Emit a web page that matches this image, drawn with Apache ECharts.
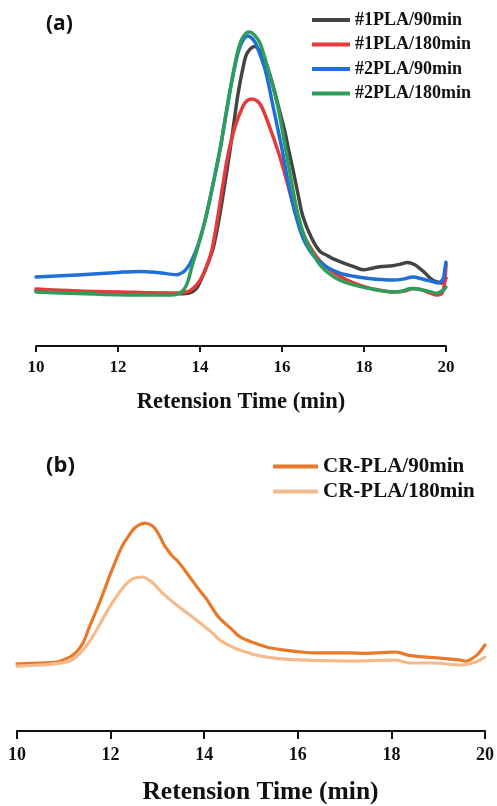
<!DOCTYPE html>
<html>
<head>
<meta charset="utf-8">
<script src="https://cdn.jsdelivr.net/npm/echarts@6/dist/echarts.min.js"></script>
<style>
  html, body { margin: 0; padding: 0; background: #fff; }
  #chart { width: 497px; height: 806px; }
</style>
</head>
<body>
<div id="chart"></div>
<script>
// GPC traces: [retention time (min), detector response (a.u.)]
const xTicks = [10, 12, 14, 16, 18, 20];

const seriesNamesA = ['#1PLA/90min', '#1PLA/180min', '#2PLA/90min', '#2PLA/180min'];
const seriesNamesB = ['CR-PLA/90min', 'CR-PLA/180min'];

const pla1_90 = [
  [10, 17.2], [11, 17.0], [12, 16.7], [13, 16.4], [13.5, 16.3], [13.75, 16.6], [13.9, 17.8],
  [14.0, 20], [14.15, 24.5], [14.32, 30.5], [14.47, 40], [14.61, 51], [14.73, 61], [14.83, 70],
  [14.93, 79], [15.05, 87], [15.15, 91.5], [15.34, 93.6], [15.45, 92.3], [15.59, 89], [15.71, 84.5],
  [15.83, 79], [15.95, 73], [16.07, 67], [16.15, 62], [16.27, 55], [16.39, 47.5], [16.51, 40.5],
  [16.73, 33.5], [16.93, 29.5], [17.1, 28.3], [17.25, 27.2], [17.49, 26], [17.75, 24.8],
  [17.98, 23.8], [18.2, 24.3], [18.39, 24.8], [18.7, 25.1], [18.9, 25.6], [19.05, 26.1],
  [19.24, 25.4], [19.38, 24], [19.49, 22.8], [19.65, 20.8], [19.78, 20], [19.9, 19.7], [20.0, 21.2]
];

const pla1_180 = [
  [10, 17.8], [11, 17.2], [12, 16.9], [13, 16.6], [13.44, 16.6], [13.7, 17.0], [13.85, 18.2],
  [14.0, 20.5], [14.15, 24.5], [14.29, 30], [14.43, 40], [14.56, 50.5], [14.68, 59.5],
  [14.85, 68.4], [15.05, 75], [15.15, 76.7], [15.27, 77.2], [15.4, 76.5], [15.51, 74.6],
  [15.71, 68], [15.9, 61], [16.02, 56], [16.15, 50], [16.32, 42], [16.5, 35.5], [16.73, 30],
  [16.93, 26.5], [17.2, 23.5], [17.41, 21.8], [17.7, 20], [18.07, 18.3], [18.4, 17.4],
  [18.71, 16.9], [19.0, 17.2], [19.2, 18.0], [19.4, 17.6], [19.6, 16.6], [19.8, 15.9],
  [19.9, 16.5], [19.96, 19], [20.0, 25.5]
];

const pla2_90 = [
  [10, 21.6], [11, 22.2], [12, 23.0], [12.54, 23.3], [13.0, 22.9], [13.44, 22.3], [13.6, 23.2],
  [13.7, 24.6], [13.8, 26.8], [13.95, 31.5], [14.12, 39], [14.3, 49.5], [14.49, 61.5],
  [14.61, 70.6], [14.77, 82.3], [14.93, 91.8], [15.05, 95.6], [15.17, 96.9], [15.3, 95.7],
  [15.39, 93.6], [15.59, 86.3], [15.78, 75], [16.0, 61.5], [16.16, 50.5], [16.32, 41.5],
  [16.52, 33.5], [16.75, 28.5], [16.93, 26.3], [17.1, 24.6], [17.41, 22.8], [17.75, 21.8],
  [18.07, 21.2], [18.4, 20.8], [18.71, 20.6], [18.95, 20.9], [19.2, 21.6], [19.4, 21.0],
  [19.6, 20.4], [19.8, 19.7], [19.93, 21], [19.97, 24], [20.0, 26.2]
];

const pla2_180 = [
  [10, 16.9], [11, 16.4], [12, 16.0], [13, 15.9], [13.27, 15.9], [13.45, 16.2], [13.6, 17.5],
  [13.7, 20], [13.8, 24.7], [13.95, 31], [14.12, 39], [14.3, 49.5], [14.49, 61.5],
  [14.61, 70.6], [14.77, 82.5], [14.93, 92.5], [15.05, 96.6], [15.2, 98.1], [15.32, 97.3],
  [15.46, 94.7], [15.66, 86.5], [15.88, 75.9], [16.07, 63], [16.23, 51.5], [16.39, 41],
  [16.6, 32.5], [16.8, 27.8], [16.93, 25.3], [17.15, 22.6], [17.41, 20.6], [17.75, 19.1],
  [18.07, 18.1], [18.4, 17.3], [18.71, 16.9], [18.95, 17.2], [19.15, 18.0], [19.3, 17.8],
  [19.54, 17.2], [19.78, 16.5], [19.93, 17.4], [20.0, 18.4]
];

const crpla_90 = [
  [10, 30.5], [10.5, 30.9], [10.8, 31.2], [11.07, 33], [11.25, 35.5], [11.41, 40], [11.56, 48],
  [11.7, 55], [11.83, 62], [11.98, 70.5], [12.13, 78.5], [12.26, 84.5], [12.37, 88.2],
  [12.5, 92], [12.6, 93.6], [12.73, 94.5], [12.85, 93.8], [12.94, 92.3], [13.05, 88.5],
  [13.16, 84], [13.3, 80], [13.45, 76.8], [13.69, 70], [13.9, 64], [14.05, 60], [14.3, 52],
  [14.6, 46], [14.75, 43], [15.03, 40.3], [15.33, 38.2], [15.67, 36.9], [16.03, 36], [16.4, 35.5],
  [17.1, 35.5], [17.46, 35.3], [17.8, 35.6], [18.1, 35.9], [18.22, 35.3], [18.35, 34.5],
  [18.6, 33.8], [18.87, 33.4], [19.2, 32.8], [19.45, 32.3], [19.6, 31.8], [19.73, 33],
  [19.85, 35], [20.0, 39.1]
];

const crpla_180 = [
  [10, 29.5], [10.5, 30], [11.07, 31.4], [11.25, 33.5], [11.41, 36.8], [11.56, 41], [11.7, 45.9],
  [11.98, 56.4], [12.26, 65], [12.47, 69.1], [12.67, 70], [12.88, 67.7], [13.11, 62.7],
  [13.41, 57.3], [13.75, 51.8], [14.18, 44.5], [14.33, 41.4], [14.75, 36.8], [15.33, 33.6],
  [16.03, 32.3], [17.1, 31.8], [18.1, 32.2], [18.25, 31.5], [18.4, 30.9], [18.87, 30.9],
  [19.5, 30], [19.8, 31.4], [20.0, 33.6]
];

const colorsA = ['#444444', '#e5393a', '#1f6fd8', '#2e9d5a'];
const colorsB = ['#e8792a', '#f5ba8c'];

const serif = '"Liberation Serif", "Times New Roman", serif';
const sans = '"Open Sans", "Noto Sans", sans-serif';

function xAxisFor(gridIndex, opts) {
  return {
    gridIndex: gridIndex,
    type: 'value',
    min: 10, max: 20, interval: 2,
    name: 'Retension Time (min)',
    nameLocation: 'middle',
    nameGap: opts.nameGap,
    nameTextStyle: {
      fontFamily: serif, fontWeight: 'bold', fontSize: opts.nameSize, color: '#111',
      padding: opts.namePadding || 0
    },
    axisLine: { show: true, onZero: false, lineStyle: { color: '#111', width: 2 } },
    axisTick: { show: true, inside: false, length: opts.tickLen, lineStyle: { color: '#111', width: 2 } },
    axisLabel: {
      fontFamily: serif, fontWeight: 'bold', fontSize: opts.labelSize, color: '#111',
      margin: opts.labelMargin,
      formatter: function (v) { return xTicks.indexOf(v) >= 0 ? String(v) : ''; }
    },
    splitLine: { show: false }
  };
}

function yAxisFor(gridIndex) {
  return {
    gridIndex: gridIndex, type: 'value', min: 0, max: 100,
    show: false, splitLine: { show: false }
  };
}

function lineSeries(name, data, color, idx, width) {
  return {
    name: name, type: 'line', data: data,
    xAxisIndex: idx, yAxisIndex: idx,
    smooth: 0.35, showSymbol: false, symbol: 'none',
    lineStyle: { color: color, width: width, cap: 'round', join: 'round' },
    itemStyle: { color: color },
    animation: false
  };
}

const chart = echarts.init(document.getElementById('chart'), null, { renderer: 'canvas' });

chart.setOption({
  backgroundColor: '#ffffff',
  animation: false,
  title: [
    { text: '(a)', left: 41, top: 9,
      textStyle: { fontFamily: sans, fontWeight: 'bold', fontSize: 21, color: '#111' } },
    { text: '(b)', left: 41, top: 450,
      textStyle: { fontFamily: sans, fontWeight: 'bold', fontSize: 22, color: '#111' } }
  ],
  legend: [
    {
      data: seriesNamesA, orient: 'vertical', left: 307, top: 6,
      icon: 'rect', itemWidth: 38, itemHeight: 4, itemGap: 6.5,
      textStyle: { fontFamily: serif, fontWeight: 'bold', fontSize: 18, lineHeight: 18, color: '#111' }
    },
    {
      data: seriesNamesB, orient: 'vertical', left: 268, top: 451,
      icon: 'rect', itemWidth: 45, itemHeight: 4, itemGap: 4,
      textStyle: { fontFamily: serif, fontWeight: 'bold', fontSize: 21, lineHeight: 21, color: '#111' }
    }
  ],
  grid: [
    { left: 36, right: 51, top: 26, height: 320, containLabel: false },
    { left: 17, right: 11, top: 511, height: 220, containLabel: false }
  ],
  xAxis: [
    xAxisFor(0, { nameGap: 45, nameSize: 22.5, tickLen: 6, labelSize: 17, labelMargin: 13 }),
    xAxisFor(1, { nameGap: 48, nameSize: 25.5, tickLen: 8, labelSize: 18, labelMargin: 15, namePadding: [0, 0, 0, 19] })
  ],
  yAxis: [yAxisFor(0), yAxisFor(1)],
  series: [
    lineSeries(seriesNamesA[0], pla1_90, colorsA[0], 0, 3.5),
    lineSeries(seriesNamesA[1], pla1_180, colorsA[1], 0, 3.5),
    lineSeries(seriesNamesA[2], pla2_90, colorsA[2], 0, 3.5),
    lineSeries(seriesNamesA[3], pla2_180, colorsA[3], 0, 3.5),
    lineSeries(seriesNamesB[0], crpla_90, colorsB[0], 1, 3.2),
    lineSeries(seriesNamesB[1], crpla_180, colorsB[1], 1, 3.2)
  ]
});
</script>
</body>
</html>
